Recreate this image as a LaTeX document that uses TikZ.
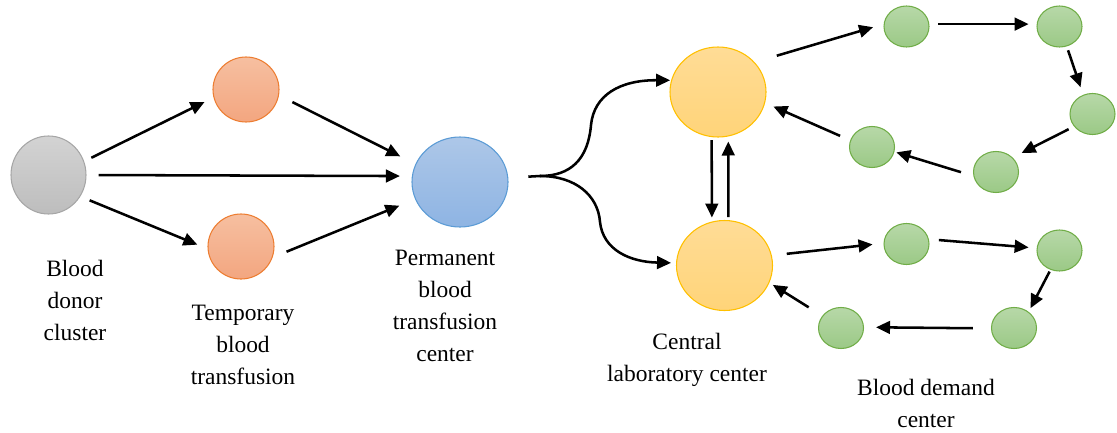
\documentclass[tikz,border=0pt]{standalone}
\usepackage{fontspec}
\setmainfont{Liberation Serif}
\usetikzlibrary{shapes.geometric,arrows.meta}
\newdimen\px \px=0.75pt
\definecolor{grayB}{HTML}{A6A6A6}
\definecolor{grayT}{HTML}{D3D3D3}
\definecolor{grayBo}{HTML}{BDBDBD}
\definecolor{orB}{HTML}{ED7D31}
\definecolor{orT}{HTML}{F6BFA0}
\definecolor{orBo}{HTML}{F3A680}
\definecolor{blB}{HTML}{5B9BD5}
\definecolor{blT}{HTML}{ADC7E8}
\definecolor{blBo}{HTML}{8EB4E3}
\definecolor{yeB}{HTML}{FFC000}
\definecolor{yeT}{HTML}{FFDC96}
\definecolor{yeBo}{HTML}{FFD479}
\definecolor{grB}{HTML}{70AD47}
\definecolor{grT}{HTML}{B7D8A8}
\definecolor{grBo}{HTML}{9BC986}
\tikzset{
  circ/.style={ellipse, inner sep=0pt, line width=0.8pt},
  graynode/.style={circ, draw=grayB, top color=grayT, bottom color=grayBo, minimum width=75\px, minimum height=78\px},
  ornode/.style={circ, draw=orB, top color=orT, bottom color=orBo, minimum width=66\px, minimum height=65\px},
  blnode/.style={circ, draw=blB, top color=blT, bottom color=blBo, minimum width=96\px, minimum height=90\px},
  yenode/.style={circ, draw=yeB, top color=yeT, bottom color=yeBo, minimum width=96\px, minimum height=90\px},
  grnode/.style={circ, draw=grB, top color=grT, bottom color=grBo, minimum width=45\px, minimum height=41\px},
  arr/.style={line width=1.9pt, -{Triangle[length=10.5pt,width=9.5pt]}},
  plain/.style={line width=1.9pt},
  lbl/.style={align=center, font=\fontsize{17.6}{24}\selectfont, inner sep=0pt},
}
\begin{document}
\begin{tikzpicture}[x=0.75pt, y=-0.75pt]
\useasboundingbox (0,0) rectangle (1117,432);
% nodes
\node[graynode] (gray) at (48.5,175) {};
\node[ornode] (ot) at (246,89.5) {};
\node[ornode] (ob) at (241,246.5) {};
\node[blnode] (blue) at (460,182) {};
\node[yenode] (yt) at (718,92) {};
\node[yenode] (yb) at (724.5,265.5) {};
\node[grnode] (g1) at (906.5,26.5) {};
\node[grnode] (g2) at (1059.5,26.5) {};
\node[grnode] (g3) at (1092.5,114) {};
\node[grnode] (g4) at (996,172) {};
\node[grnode] (g5) at (872,147) {};
\node[grnode] (h1) at (906.5,244) {};
\node[grnode] (h2) at (1059.5,250.5) {};
\node[grnode] (h3) at (1014,328) {};
\node[grnode] (h4) at (841,328) {};
% labels
\node[lbl] (t1) at (75,300) {Blood\\donor\\cluster};
\node[lbl] (t2) at (243,345) {Temporary\\blood\\transfusion};
\node[lbl] (t3) at (445,306) {Permanent\\blood\\transfusion\\center};
\node[lbl] (t4) at (687,360) {Central\\laboratory center};
\node[lbl] (t5) at (926,403) {Blood demand\\center};
% left arrows
\draw[arr, shorten <=8\px, shorten >=10\px] (gray.21) -- (ot.194);
\draw[arr, shorten <=10\px, shorten >=11\px] (gray.326) -- (ob.184);
\draw[arr, shorten <=12\px, shorten >=12\px] (gray.0) -- (blue.173);
\draw[arr, shorten <=15\px, shorten >=17\px] (ot.350) -- (blue.158);
\draw[arr, shorten <=15\px, shorten >=17\px] (ob.341) -- (blue.201);
% fork
\coordinate (fork) at (540,176);
\draw[plain, shorten <=20\px] (blue.5) -- (fork);
\draw[arr, shorten >=1\px] (fork) .. controls (570,176) and (588,160) .. (591,125) .. controls (594,95) and (620,80) .. (yt.166);
\draw[arr, shorten >=5\px] (fork) .. controls (575,176) and (598,195) .. (600,222) .. controls (603,250) and (630,262) .. (yb.177);
% vertical
\draw[arr, shorten <=3\px, shorten >=4\px] (yt.262) -- (yb.106);
\draw[arr, shorten <=3\px, shorten >=5\px] (yb.85) -- (yt.283);
% top loop
\draw[arr, shorten <=23\px, shorten >=11\px] (yt.39) -- (g1.174);
\draw[arr, shorten <=9\px, shorten >=8\px] (g1.6) -- (g2.174);
\draw[arr, shorten <=4\px, shorten >=8\px] (g2.290) -- (g3.116);
\draw[arr, shorten <=6\px, shorten >=10\px] (g3.214) -- (g4.41);
\draw[arr, shorten <=13\px, shorten >=2\px] (g4.190) -- (g5.348);
\draw[arr, shorten <=11\px, shorten >=9\px] (g5.163) -- (yt.347);
% bottom loop
\draw[arr, shorten <=15\px, shorten >=11\px] (yb.12) -- (h1.178);
\draw[arr, shorten <=10\px, shorten >=8\px] (h1.12) -- (h2.174);
\draw[arr, shorten <=2\px, shorten >=4\px] (h2.245) -- (h3.48);
\draw[arr, shorten <=18\px, shorten >=12\px] (h3.181) -- (h4.2);
\draw[arr, shorten <=16\px, shorten >=4\px] (h4.147) -- (yb.339);
\end{tikzpicture}
\end{document}
